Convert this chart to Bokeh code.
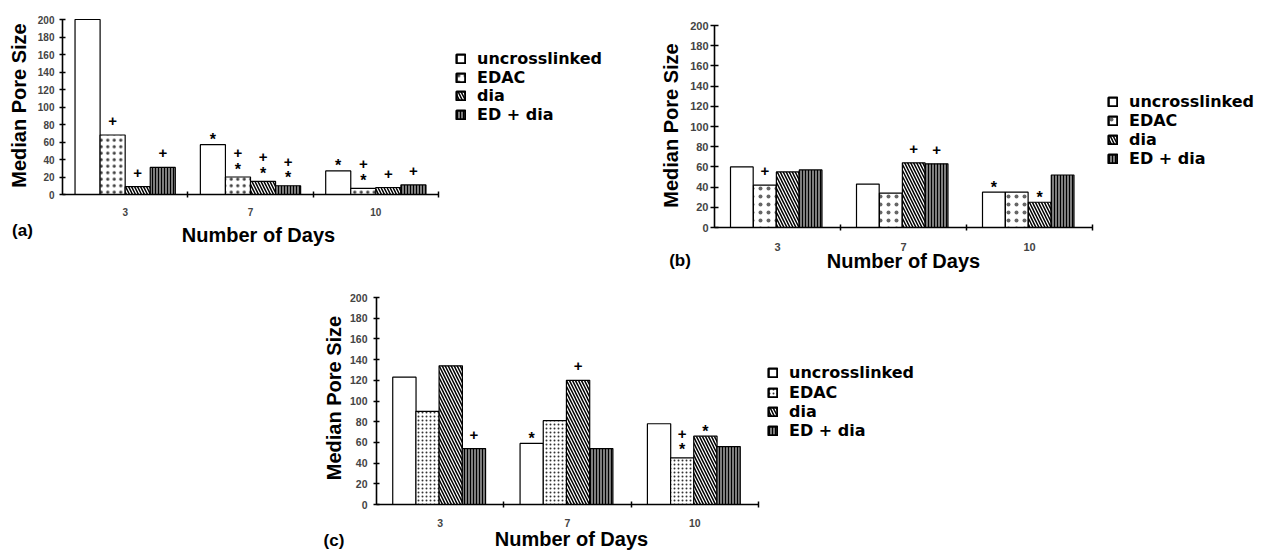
import math
from bokeh.plotting import figure
from bokeh.models import Range1d, FixedTicker, Legend, LegendItem, Label, ColumnDataSource
from bokeh.layouts import column, row
from bokeh.embed import file_html
from bokeh.resources import INLINE
from bokeh.core.properties import value

# ---------------- data ----------------
days = ["3", "7", "10"]
treatments = ["uncrosslinked", "EDAC", "dia", "ED + dia"]
y_ticks = [0, 20, 40, 60, 80, 100, 120, 140, 160, 180, 200]

# panel (a)
a_uncrosslinked = [200, 57, 27]
a_edac = [68, 20, 7]
a_dia = [9, 15, 8]
a_ed_dia = [31, 10, 11]
a_sig_uncrosslinked = ["", "*", "*"]
a_sig_edac = ["+", "+*", "+*"]
a_sig_dia = ["+", "+*", "+"]
a_sig_ed_dia = ["+", "+*", "+"]

# panel (b)
b_uncrosslinked = [60, 43, 35]
b_edac = [42, 34, 35]
b_dia = [55, 64, 25]
b_ed_dia = [57, 63, 52]
b_sig_uncrosslinked = ["", "", "*"]
b_sig_edac = ["+", "", ""]
b_sig_dia = ["", "+", "*"]
b_sig_ed_dia = ["", "+", ""]

# panel (c)
c_uncrosslinked = [123, 59, 78]
c_edac = [90, 81, 45]
c_dia = [134, 120, 66]
c_ed_dia = [54, 54, 56]
c_sig_uncrosslinked = ["", "*", ""]
c_sig_edac = ["", "", "+*"]
c_sig_dia = ["", "+", "*"]
c_sig_ed_dia = ["+", "", ""]

FONT = "Liberation Sans"
LEGEND_FONT = "DejaVu Sans"
YMAX = 200


def styles(dot_scale, dot_alpha):
    return [
        dict(fill_color="white"),
        dict(fill_color="white", hatch_pattern="dot", hatch_scale=dot_scale, hatch_weight=1,
             hatch_color="black", hatch_alpha=dot_alpha),
        dict(fill_color="white", hatch_pattern="left_diagonal_line", hatch_scale=6, hatch_weight=1.5,
             hatch_color="black"),
        dict(fill_color="#7d7d7d", hatch_pattern="vertical_line", hatch_scale=3, hatch_weight=1,
             hatch_color="black"),
    ]


def make_panel(tag, series, sigs, g):
    # page-pixel geometry -> value ranges (the frame fills the whole figure)
    L, R, T, B = g["box"]                 # figure box on the page
    x0p, x3p = g["xpx"]                   # page px of x = 0 and x = len(days)
    y0p, y200p = g["ypx"]                 # page px of value 0 and 200
    ppu_x = (x3p - x0p) / len(days)
    ppu_y = (y0p - y200p) / YMAX
    x_start = -(x0p - L) / ppu_x
    x_end = len(days) + (R - x3p) / ppu_x
    y_start = -(B - y0p) / ppu_y
    y_end = YMAX + (y200p - T) / ppu_y

    def dx(px):
        return (px - x0p) / ppu_x

    def dy(py):
        return (y0p - py) / ppu_y

    p = figure(width=R - L, height=B - T, x_range=Range1d(x_start, x_end),
               y_range=Range1d(y_start, y_end),
               output_backend="svg", toolbar_location=None, title=None,
               min_border=0, min_border_left=0, min_border_right=0,
               min_border_top=0, min_border_bottom=0)
    p.outline_line_color = None
    p.xgrid.visible = False
    p.ygrid.visible = False
    p.background_fill_color = "white"
    p.border_fill_color = "white"

    st = styles(g["dot"], g["dota"])
    legend_renderers = []
    for j, (vals, sig) in enumerate(zip(series, sigs)):
        xs = [i + 0.5 + g["center"] + g["offs"][j] for i in range(len(days))]
        src = ColumnDataSource(dict(x=xs, top=vals))
        p.vbar(x="x", top="top", bottom=0, width=g["bw"], source=src,
               line_color="black", line_width=1.2, **st[j])
        lr = p.vbar(x="x", top="top", bottom=0, width=g["bw"], source=src,
                    line_color="black", line_width=2.4, visible=False, **st[j])
        legend_renderers.append(lr)

        px, py, pyo, sx, sy, syo = [], [], [], [], [], []
        for i, s in enumerate(sig):
            if s == "+":
                px.append(xs[i]); py.append(vals[i]); pyo.append(-14)
            elif s == "*":
                sx.append(xs[i]); sy.append(vals[i]); syo.append(-5)
            elif s == "+*":
                sx.append(xs[i]); sy.append(vals[i]); syo.append(-8)
                px.append(xs[i]); py.append(vals[i]); pyo.append(-24)
        if px:
            p.text(x=px, y=py, text=["+"] * len(px), y_offset=pyo, text_align="center",
                   text_baseline="middle", text_font=value(FONT), text_font_style="bold",
                   text_font_size="15px", text_color="black")
        if sx:
            p.text(x=sx, y=sy, text=["*"] * len(sx), y_offset=syo, text_align="center",
                   text_baseline="middle", text_font=value(FONT), text_font_style="bold",
                   text_font_size="16px", text_color="black")

    # x axis, drawn at value 0
    xa = p.xaxis[0]
    xa.fixed_location = 0
    xa.bounds = (0, len(days))
    xa.ticker = FixedTicker(ticks=[i + 0.5 for i in range(len(days))],
                            minor_ticks=[i + 1 for i in range(len(days))])
    xa.major_label_overrides = {i + 0.5: d for i, d in enumerate(days)}
    xa.major_tick_in = 0
    xa.major_tick_out = 0
    xa.minor_tick_in = 3
    xa.minor_tick_out = 3
    xa.minor_tick_line_width = 1.5
    xa.axis_line_width = 1.6
    xa.major_label_text_font = FONT
    xa.major_label_text_font_style = "bold"
    xa.major_label_text_font_size = g["tf"]
    xa.major_label_standoff = g["xls"]
    xa.axis_label = None

    # y axis, drawn at x = 0
    ya = p.yaxis[0]
    ya.fixed_location = 0
    ya.bounds = (0, YMAX)
    ya.ticker = FixedTicker(ticks=y_ticks)
    ya.major_tick_in = g["yt"]
    ya.major_tick_out = g["yt"]
    ya.minor_tick_in = 0
    ya.minor_tick_out = 0
    ya.major_tick_line_width = 1.5
    ya.axis_line_width = 1.6
    ya.major_label_text_font = FONT
    ya.major_label_text_font_style = "bold"
    ya.major_label_text_font_size = g["tf"]
    ya.major_label_standoff = g["yls"]
    ya.axis_label = None

    # axis titles and panel tag (positions are text centres)
    ylx, yly = g["ylab"]
    p.add_layout(Label(x=dx(ylx), y=dy(yly), text="Median Pore Size", angle=math.pi / 2,
                       text_align="center", text_baseline="middle", text_font=FONT,
                       text_font_style="bold", text_font_size="20px", text_color="black"))
    xlx, xly = g["xlab"]
    p.add_layout(Label(x=dx(xlx), y=dy(xly), text="Number of Days",
                       text_align="center", text_baseline="middle", text_font=FONT,
                       text_font_style="bold", text_font_size="20px", text_color="black"))
    tx, ty = g["tag"]
    p.add_layout(Label(x=dx(tx), y=dy(ty), text=tag,
                       text_align="center", text_baseline="middle", text_font=FONT,
                       text_font_style="bold", text_font_size="17px", text_color="black"))

    # legend: one single-item legend per row so the row pitch matches
    lx, first_row, pitch = g["leg"]
    for k, (t, r) in enumerate(zip(treatments, legend_renderers)):
        row_center = first_row + k * pitch
        lg = Legend(items=[LegendItem(label=t, renderers=[r])],
                    location=(lx - L, B - (row_center + 9.5)), orientation="vertical",
                    glyph_width=11, glyph_height=11, label_standoff=11, spacing=0,
                    label_height=16, padding=0, margin=0,
                    border_line_alpha=0, background_fill_alpha=0,
                    label_text_font=LEGEND_FONT, label_text_font_style="bold",
                    label_text_font_size="16px", label_text_color="black")
        p.add_layout(lg)
    return p


offs8 = [-0.3, -0.1, 0.1, 0.3]
offs7 = [-0.273, -0.091, 0.091, 0.273]

TOP_B = 278   # bottom of the top row on the page
# all positions are page pixels (the Bokeh page has no body margin)
ga = dict(box=(0, 620, 0, TOP_B), xpx=(62, 438), ypx=(194, 19),
          bw=0.2, offs=offs8, center=0.0, dot=6.5, dota=0.75, tf="10px",
          xls=10, yt=3, yls=5,
          ylab=(18.5, 105), xlab=(258, 234.5), tag=(22, 230), leg=(455, 58.3, 18.7))
gb = dict(box=(620, 1275, 0, TOP_B), xpx=(714, 1092), ypx=(227, 25),
          bw=0.18, offs=offs7, center=-0.01, dot=8, dota=0.6, tf="11px",
          xls=12, yt=4, yls=2,
          ylab=(670, 125), xlab=(903, 260.5), tag=(679.5, 260), leg=(1107, 101.7, 18.9))
gc = dict(box=(0, 1275, TOP_B, 550), xpx=(376, 758), ypx=(504, 297),
          bw=0.183, offs=offs7, center=-0.008, dot=4, dota=0.8, tf="10.5px",
          xls=11, yt=3, yls=6,
          ylab=(333.5, 397.5), xlab=(571, 538.5), tag=(333.5, 539.5), leg=(767, 372.7, 19.4))

pa = make_panel("(a)", [a_uncrosslinked, a_edac, a_dia, a_ed_dia],
                [a_sig_uncrosslinked, a_sig_edac, a_sig_dia, a_sig_ed_dia], ga)
pb = make_panel("(b)", [b_uncrosslinked, b_edac, b_dia, b_ed_dia],
                [b_sig_uncrosslinked, b_sig_edac, b_sig_dia, b_sig_ed_dia], gb)
pc = make_panel("(c)", [c_uncrosslinked, c_edac, c_dia, c_ed_dia],
                [c_sig_uncrosslinked, c_sig_edac, c_sig_dia, c_sig_ed_dia], gc)

layout = column(row(pa, pb), pc)
open("out.html", "w").write(file_html(layout, INLINE))
